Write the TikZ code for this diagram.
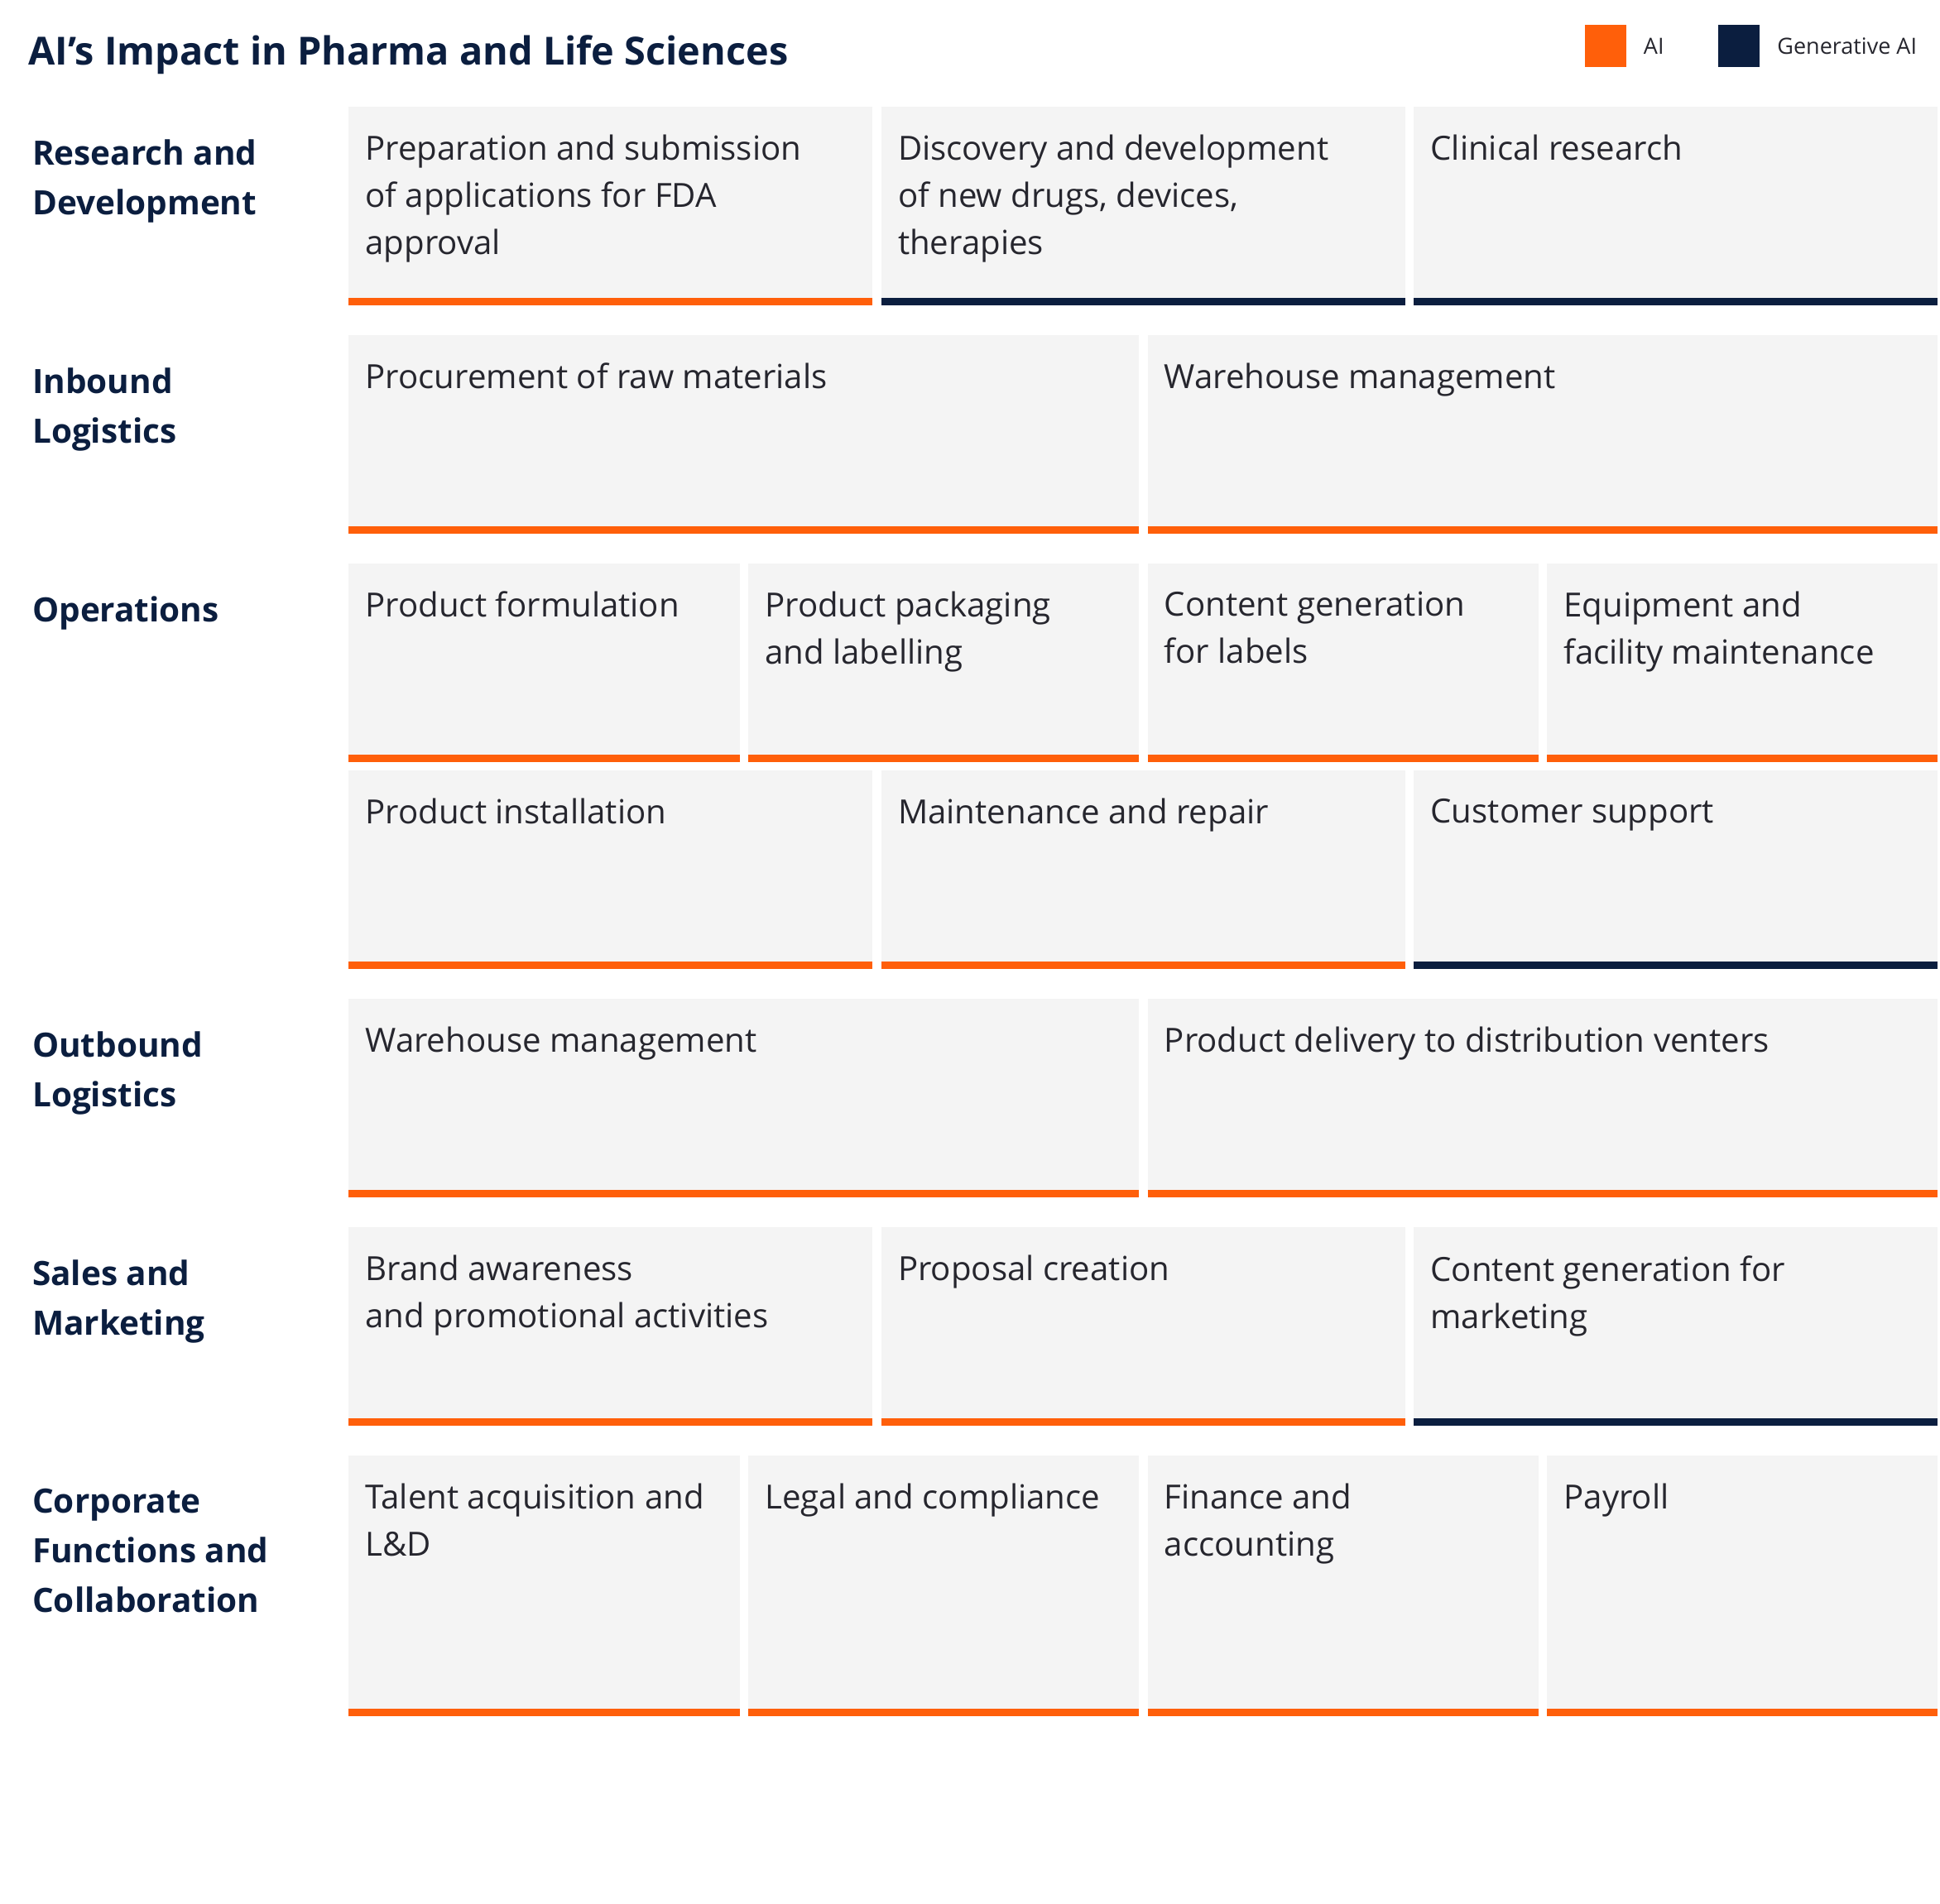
\documentclass[tikz,border=0pt]{standalone}
\usepackage{fontspec}
\setmainfont{Open Sans}
\usepackage{tikz}
\usetikzlibrary{positioning}
\definecolor{aiorange}{HTML}{FF5F0A}
\definecolor{genainavy}{HTML}{0B1E3F}
\definecolor{cellgray}{HTML}{F4F4F4}
\definecolor{inkgray}{HTML}{26262E}

\begin{document}
\begin{tikzpicture}[x=0.5pt,y=-0.5pt,
  cell/.style={rectangle,fill=cellgray,inner sep=0pt,outer sep=0pt,minimum height=80pt},
  wide/.style={cell,minimum width=318.25pt},
  third/.style={cell,minimum width=211pt},
  quarter/.style={cell,minimum width=157.375pt},
  tall/.style={minimum height=105pt},
  celltext/.style={anchor=north west,inner sep=0pt,align=left,text=inkgray,
    font=\fontsize{13.4}{19}\selectfont,xshift=6.5pt,yshift=-11.1pt},
  rowlabel/.style={anchor=north west,inner sep=0pt,align=left,text=genainavy,
    font=\bfseries\fontsize{13.5}{20}\selectfont,yshift=-13pt},
  aibar/.style={line width=3pt,aiorange},
  genbar/.style={line width=3pt,genainavy},
  legendkey/.style={rectangle,anchor=north west,inner sep=0pt,outer sep=0pt,
    minimum width=16.75pt,minimum height=17pt},
  legendtext/.style={anchor=base west,inner sep=0pt,text=inkgray,font=\fontsize{9}{11}\selectfont}
]
\useasboundingbox (0,0) rectangle (1562.7,1534);

% title and legend
\node[anchor=base west,inner sep=0pt,text=genainavy,font=\bfseries\fontsize{15.6}{20}\selectfont]
  (title) at (22.5,52.6) {AI’s Impact in Pharma and Life Sciences};
\node[legendkey,fill=aiorange]  (keyAI)  at (1276.5,19.7) {};
\node[legendtext] (keyAItext)  at (1323.6,43.7) {AI};
\node[legendkey,fill=genainavy] (keyGen) at (1383.9,19.7) {};
\node[legendtext] (keyGentext) at (1431.2,43.7) {Generative AI};

% research and development
\node[rowlabel] (rdLabel) at (25.7,86) {Research and\\Development};
\node[third,anchor=north west] (rdPrep) at (281,86) {};
\node[third,right=3.5pt of rdPrep] (rdDisc) {};
\node[third,right=3.5pt of rdDisc] (rdClin) {};
\node[celltext] (rdPrepText) at (rdPrep.north west) {Preparation and submission\\of applications for FDA\\approval};
\node[celltext] (rdDiscText) at (rdDisc.north west) {Discovery and development\\of new drugs, devices,\\therapies};
\node[celltext] (rdClinText) at (rdClin.north west) {Clinical research};
\draw[aibar]  ([yshift=1.5pt]rdPrep.south west) -- ([yshift=1.5pt]rdPrep.south east);
\draw[genbar] ([yshift=1.5pt]rdDisc.south west) -- ([yshift=1.5pt]rdDisc.south east);
\draw[genbar] ([yshift=1.5pt]rdClin.south west) -- ([yshift=1.5pt]rdClin.south east);

% inbound logistics
\node[rowlabel] (inLabel) at (25.7,270) {Inbound\\Logistics};
\node[wide,anchor=north west] (inProc) at (281,270) {};
\node[wide,right=3.5pt of inProc] (inWare) {};
\node[celltext] (inProcText) at (inProc.north west) {Procurement of raw materials};
\node[celltext] (inWareText) at (inWare.north west) {Warehouse management};
\draw[aibar] ([yshift=1.5pt]inProc.south west) -- ([yshift=1.5pt]inProc.south east);
\draw[aibar] ([yshift=1.5pt]inWare.south west) -- ([yshift=1.5pt]inWare.south east);

% operations
\node[rowlabel] (opLabel) at (25.7,454) {Operations};
\node[quarter,anchor=north west] (opForm) at (281,454) {};
\node[quarter,right=3.5pt of opForm] (opPack) {};
\node[quarter,right=3.5pt of opPack] (opCont) {};
\node[quarter,right=3.5pt of opCont] (opEquip) {};
\node[celltext] (opFormText)  at (opForm.north west)  {Product formulation};
\node[celltext] (opPackText)  at (opPack.north west)  {Product packaging\\and labelling};
\node[celltext] (opContText)  at (opCont.north west)  {Content generation\\for labels};
\node[celltext] (opEquipText) at (opEquip.north west) {Equipment and\\facility maintenance};
\draw[aibar] ([yshift=1.5pt]opForm.south west) -- ([yshift=1.5pt]opForm.south east);
\draw[aibar] ([yshift=1.5pt]opPack.south west) -- ([yshift=1.5pt]opPack.south east);
\draw[aibar] ([yshift=1.5pt]opCont.south west) -- ([yshift=1.5pt]opCont.south east);
\draw[aibar] ([yshift=1.5pt]opEquip.south west) -- ([yshift=1.5pt]opEquip.south east);

\node[third,anchor=north west] (opInst) at (281,621) {};
\node[third,right=3.5pt of opInst] (opMaint) {};
\node[third,right=3.5pt of opMaint] (opCust) {};
\node[celltext] (opInstText)  at (opInst.north west)  {Product installation};
\node[celltext] (opMaintText) at (opMaint.north west) {Maintenance and repair};
\node[celltext] (opCustText)  at (opCust.north west)  {Customer support};
\draw[aibar]  ([yshift=1.5pt]opInst.south west) -- ([yshift=1.5pt]opInst.south east);
\draw[aibar]  ([yshift=1.5pt]opMaint.south west) -- ([yshift=1.5pt]opMaint.south east);
\draw[genbar] ([yshift=1.5pt]opCust.south west) -- ([yshift=1.5pt]opCust.south east);

% outbound logistics
\node[rowlabel] (outLabel) at (25.7,805) {Outbound\\Logistics};
\node[wide,anchor=north west] (outWare) at (281,805) {};
\node[wide,right=3.5pt of outWare] (outDeliv) {};
\node[celltext] (outWareText)  at (outWare.north west)  {Warehouse management};
\node[celltext] (outDelivText) at (outDeliv.north west) {Product delivery to distribution venters};
\draw[aibar] ([yshift=1.5pt]outWare.south west) -- ([yshift=1.5pt]outWare.south east);
\draw[aibar] ([yshift=1.5pt]outDeliv.south west) -- ([yshift=1.5pt]outDeliv.south east);

% sales and marketing
\node[rowlabel] (smLabel) at (25.7,989) {Sales and\\Marketing};
\node[third,anchor=north west] (smBrand) at (281,989) {};
\node[third,right=3.5pt of smBrand] (smProp) {};
\node[third,right=3.5pt of smProp] (smCont) {};
\node[celltext] (smBrandText) at (smBrand.north west) {Brand awareness\\and promotional activities};
\node[celltext] (smPropText)  at (smProp.north west)  {Proposal creation};
\node[celltext] (smContText)  at (smCont.north west)  {Content generation for\\marketing};
\draw[aibar]  ([yshift=1.5pt]smBrand.south west) -- ([yshift=1.5pt]smBrand.south east);
\draw[aibar]  ([yshift=1.5pt]smProp.south west) -- ([yshift=1.5pt]smProp.south east);
\draw[genbar] ([yshift=1.5pt]smCont.south west) -- ([yshift=1.5pt]smCont.south east);

% corporate functions
\node[rowlabel] (cfLabel) at (25.7,1173) {Corporate\\Functions and\\Collaboration};
\node[quarter,tall,anchor=north west] (cfTalent) at (281,1173) {};
\node[quarter,tall,right=3.5pt of cfTalent] (cfLegal) {};
\node[quarter,tall,right=3.5pt of cfLegal] (cfFin) {};
\node[quarter,tall,right=3.5pt of cfFin] (cfPay) {};
\node[celltext] (cfTalentText) at (cfTalent.north west) {Talent acquisition and\\L\&D};
\node[celltext] (cfLegalText)  at (cfLegal.north west)  {Legal and compliance};
\node[celltext] (cfFinText)    at (cfFin.north west)    {Finance and\\accounting};
\node[celltext] (cfPayText)    at (cfPay.north west)    {Payroll};
\draw[aibar] ([yshift=1.5pt]cfTalent.south west) -- ([yshift=1.5pt]cfTalent.south east);
\draw[aibar] ([yshift=1.5pt]cfLegal.south west) -- ([yshift=1.5pt]cfLegal.south east);
\draw[aibar] ([yshift=1.5pt]cfFin.south west) -- ([yshift=1.5pt]cfFin.south east);
\draw[aibar] ([yshift=1.5pt]cfPay.south west) -- ([yshift=1.5pt]cfPay.south east);
\end{tikzpicture}
\end{document}
